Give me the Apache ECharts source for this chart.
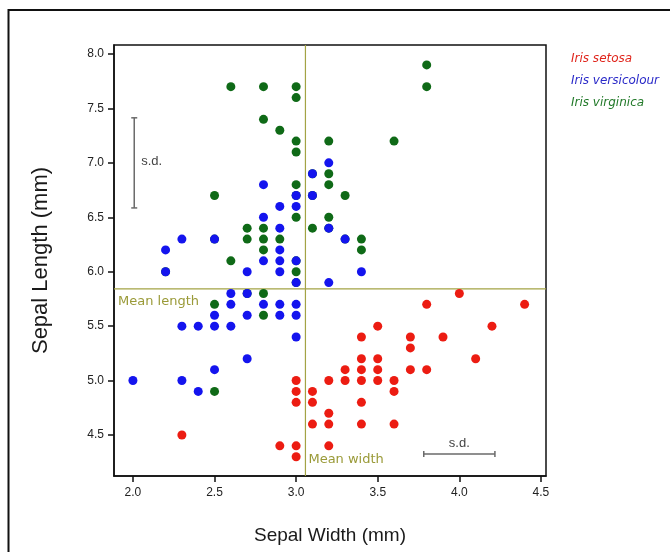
<!DOCTYPE html>
<html>
<head>
<meta charset="utf-8">
<script src="https://cdn.jsdelivr.net/npm/echarts@6/dist/echarts.min.js"></script>
<style>html,body{margin:0;padding:0;background:#fff;}#c{width:670px;height:552px;}</style>
</head>
<body>
<div id="c"></div>
<script>
// [sepal width, sepal length] (mm) — distinct points visible in the picture
var setosa = [[3.5,5.1],[3.0,4.9],[3.2,4.7],[3.1,4.6],[3.6,5.0],[3.9,5.4],[3.4,4.6],[3.4,5.0],[2.9,4.4],[3.1,4.9],[3.7,5.4],[3.4,4.8],[3.0,4.8],[3.0,4.3],[4.0,5.8],[4.4,5.7],[3.8,5.7],[3.8,5.1],[3.4,5.4],[3.7,5.1],[3.6,4.6],[3.3,5.1],[3.0,5.0],[3.5,5.2],[3.4,5.2],[3.1,4.8],[4.1,5.2],[4.2,5.5],[3.2,5.0],[3.5,5.5],[3.6,4.9],[3.0,4.4],[3.4,5.1],[3.5,5.0],[2.3,4.5],[3.2,4.4],[3.2,4.6],[3.7,5.3],[3.3,5.0]];
var versicolour = [[3.2,7.0],[3.2,6.4],[3.1,6.9],[2.3,5.5],[2.8,6.5],[2.8,5.7],[3.3,6.3],[2.4,4.9],[2.9,6.6],[2.7,5.2],[2.0,5.0],[3.0,5.9],[2.2,6.0],[2.9,6.1],[2.9,5.6],[3.1,6.7],[3.0,5.6],[2.7,5.8],[2.2,6.2],[2.5,5.6],[3.2,5.9],[2.8,6.1],[2.5,6.3],[2.9,6.4],[3.0,6.6],[2.8,6.8],[3.0,6.7],[2.9,6.0],[2.6,5.7],[2.4,5.5],[2.7,6.0],[3.0,5.4],[3.4,6.0],[2.3,6.3],[2.5,5.5],[2.6,5.5],[3.0,6.1],[2.6,5.8],[2.3,5.0],[2.7,5.6],[3.0,5.7],[2.9,5.7],[2.9,6.2],[2.5,5.1]];
var virginica = [[3.3,6.3],[2.7,5.8],[3.0,7.1],[2.9,6.3],[3.0,6.5],[3.0,7.6],[2.5,4.9],[2.9,7.3],[2.5,6.7],[3.6,7.2],[3.2,6.5],[2.7,6.4],[3.0,6.8],[2.5,5.7],[2.8,5.8],[3.2,6.4],[3.8,7.7],[2.6,7.7],[2.2,6.0],[3.2,6.9],[2.8,5.6],[2.8,7.7],[2.7,6.3],[3.3,6.7],[3.2,7.2],[2.8,6.2],[3.0,6.1],[2.8,6.4],[3.0,7.2],[2.8,7.4],[3.8,7.9],[2.8,6.3],[2.6,6.1],[3.0,7.7],[3.4,6.3],[3.1,6.4],[3.0,6.0],[3.1,6.9],[3.1,6.7],[3.2,6.8],[3.0,6.7],[2.5,6.3],[3.4,6.2],[3.0,5.9]];
var xTicks = [2.0, 2.5, 3.0, 3.5, 4.0, 4.5];
var yTicks = [4.5, 5.0, 5.5, 6.0, 6.5, 7.0, 7.5, 8.0];
var meanWidth = 3.057, meanLength = 5.843;
var sdWidth = 0.436, sdLength = 0.828;
var sdLengthBar = [2.008, 7.0];   // x, centre y
var sdWidthBar = [4.0, 4.325];    // centre x, y
var xRange = [1.884, 4.531], yRange = [4.123, 8.083];

var olive = '#a3a345', oliveText = '#9a9a38', sdCol = '#6a6a6a';
var legendFont = 'italic 12px "DejaVu Sans", sans-serif';

var chart = echarts.init(document.getElementById('c'));
chart.setOption({
  backgroundColor: '#ffffff',
  animation: false,
  graphic: [
    {type: 'rect', shape: {x: 8.5, y: 10, width: 720, height: 620}, style: {fill: 'none', stroke: '#111', lineWidth: 2}, z: 100},
    {type: 'text', left: 571, top: 53, style: {text: 'Iris setosa', fill: '#e0251c', font: legendFont}},
    {type: 'text', left: 571, top: 75, style: {text: 'Iris versicolour', fill: '#2a2ac8', font: legendFont}},
    {type: 'text', left: 571, top: 97, style: {text: 'Iris virginica', fill: '#237a2a', font: legendFont}}
  ],
  grid: {left: 114, right: 124, top: 45, bottom: 76, show: true, borderColor: '#111', borderWidth: 1.5, backgroundColor: 'transparent'},
  xAxis: {
    type: 'value', min: xRange[0], max: xRange[1],
    name: 'Sepal Width (mm)', nameLocation: 'middle', nameGap: 50,
    nameTextStyle: {fontSize: 19, color: '#1a1a1a', fontFamily: 'Arial, "Liberation Sans", sans-serif'},
    axisLine: {show: true, onZero: false, lineStyle: {color: '#111', width: 1.5}},
    axisTick: {show: true, length: 6, customValues: xTicks, lineStyle: {color: '#111', width: 1.5}},
    axisLabel: {customValues: xTicks, margin: 11, fontSize: 12, color: '#222', fontFamily: 'Arial, "Liberation Sans", sans-serif', formatter: function(v){return v.toFixed(1);}},
    splitLine: {show: false}
  },
  yAxis: {
    type: 'value', min: yRange[0], max: yRange[1],
    name: 'Sepal Length (mm)', nameLocation: 'middle', nameGap: 62,
    nameTextStyle: {fontSize: 22, color: '#1a1a1a', fontFamily: 'Arial, "Liberation Sans", sans-serif'},
    axisLine: {show: true, onZero: false, lineStyle: {color: '#111', width: 1.5}},
    axisTick: {show: true, length: 6, customValues: yTicks, lineStyle: {color: '#111', width: 1.5}},
    axisLabel: {customValues: yTicks, margin: 10, fontSize: 12, color: '#222', fontFamily: 'Arial, "Liberation Sans", sans-serif', formatter: function(v){return v.toFixed(1);}},
    splitLine: {show: false}
  },
  series: [
    {
      type: 'custom', name: 'annotations', silent: true, z: 1,
      data: [[0]],
      renderItem: function(params, api) {
        var children = [];
        var font = '13px "DejaVu Sans", sans-serif';
        var sdFont = '13px Arial, "Liberation Sans", sans-serif';
        // mean lines
        var a = api.coord([meanWidth, yRange[0]]), b = api.coord([meanWidth, yRange[1]]);
        children.push({type: 'line', shape: {x1: a[0], y1: a[1], x2: b[0], y2: b[1]}, style: {stroke: olive, lineWidth: 1.2}});
        var c = api.coord([xRange[0], meanLength]), d = api.coord([xRange[1], meanLength]);
        children.push({type: 'line', shape: {x1: c[0], y1: c[1], x2: d[0], y2: d[1]}, style: {stroke: olive, lineWidth: 1.2}});
        children.push({type: 'text', x: c[0] + 4, y: c[1] + 13, style: {text: 'Mean length', fill: oliveText, font: font, verticalAlign: 'middle', align: 'left'}});
        children.push({type: 'text', x: a[0] + 3, y: a[1] - 16, style: {text: 'Mean width', fill: oliveText, font: font, verticalAlign: 'middle', align: 'left'}});
        // s.d. bar for length (vertical)
        var p1 = api.coord([sdLengthBar[0], sdLengthBar[1] - sdLength / 2]);
        var p2 = api.coord([sdLengthBar[0], sdLengthBar[1] + sdLength / 2]);
        children.push({type: 'line', shape: {x1: p1[0], y1: p1[1], x2: p2[0], y2: p2[1]}, style: {stroke: sdCol, lineWidth: 1.5}});
        children.push({type: 'line', shape: {x1: p1[0] - 3, y1: p1[1], x2: p1[0] + 3, y2: p1[1]}, style: {stroke: sdCol, lineWidth: 1.5}});
        children.push({type: 'line', shape: {x1: p2[0] - 3, y1: p2[1], x2: p2[0] + 3, y2: p2[1]}, style: {stroke: sdCol, lineWidth: 1.5}});
        var pm = api.coord([sdLengthBar[0], sdLengthBar[1]]);
        children.push({type: 'text', x: pm[0] + 7, y: pm[1] - 1, style: {text: 's.d.', fill: '#444', font: sdFont, verticalAlign: 'middle', align: 'left'}});
        // s.d. bar for width (horizontal)
        var q1 = api.coord([sdWidthBar[0] - sdWidth / 2, sdWidthBar[1]]);
        var q2 = api.coord([sdWidthBar[0] + sdWidth / 2, sdWidthBar[1]]);
        children.push({type: 'line', shape: {x1: q1[0], y1: q1[1], x2: q2[0], y2: q2[1]}, style: {stroke: sdCol, lineWidth: 1.5}});
        children.push({type: 'line', shape: {x1: q1[0], y1: q1[1] - 3, x2: q1[0], y2: q1[1] + 3}, style: {stroke: sdCol, lineWidth: 1.5}});
        children.push({type: 'line', shape: {x1: q2[0], y1: q2[1] - 3, x2: q2[0], y2: q2[1] + 3}, style: {stroke: sdCol, lineWidth: 1.5}});
        var qm = api.coord([sdWidthBar[0], sdWidthBar[1]]);
        children.push({type: 'text', x: qm[0], y: qm[1] - 11, style: {text: 's.d.', fill: '#444', font: sdFont, verticalAlign: 'middle', align: 'center'}});
        return {type: 'group', children: children};
      }
    },
    {type: 'scatter', name: 'Iris setosa', data: setosa, symbolSize: 9, itemStyle: {color: '#ec1c12', opacity: 1}, z: 3},
    {type: 'scatter', name: 'Iris virginica', data: virginica, symbolSize: 9, itemStyle: {color: '#0f6a17', opacity: 1}, z: 3},
    {type: 'scatter', name: 'Iris versicolour', data: versicolour, symbolSize: 9, itemStyle: {color: '#1414ee', opacity: 1}, z: 3}
  ]
});
</script>
</body>
</html>
